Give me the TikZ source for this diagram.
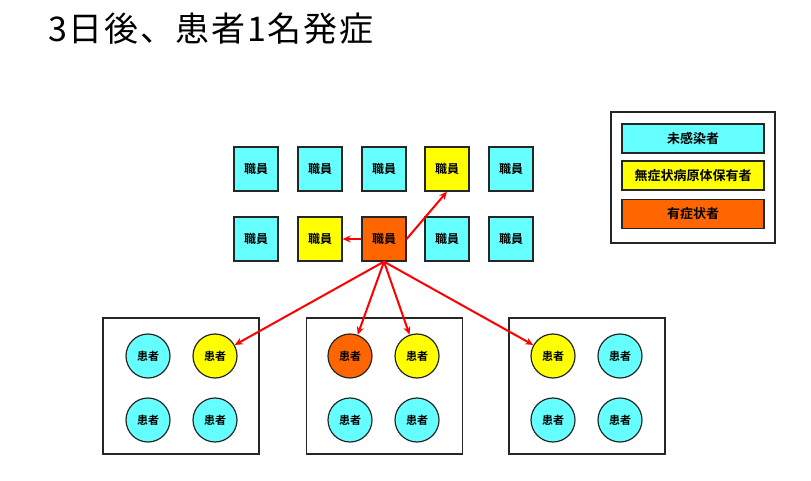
\documentclass[tikz,border=0pt]{standalone}
\usepackage{fontspec}
\setmainfont{Noto Sans CJK JP}[BoldFont={Noto Sans CJK JP Bold}]
\usetikzlibrary{arrows.meta}
\definecolor{cyanc}{HTML}{66FFFF}
\definecolor{yell}{HTML}{FFFF00}
\definecolor{oran}{HTML}{FF6600}
\definecolor{edgec}{HTML}{262626}
\begin{document}
\begin{tikzpicture}[x=1pt,y=-1pt,
 staff/.style={draw=edgec,line width=1.3pt,minimum size=44pt,inner sep=0pt,font=\fontsize{12}{12}\selectfont\bfseries},
 pat/.style={circle,draw=edgec,line width=1.2pt,minimum size=44pt,inner sep=0pt,font=\fontsize{11}{11}\selectfont\bfseries},
 room/.style={draw=edgec,line width=1.4pt,minimum width=156pt,minimum height=136pt,inner sep=0pt},
 leg/.style={draw=edgec,line width=1.3pt,minimum width=142pt,minimum height=29pt,inner sep=0pt,font=\fontsize{13}{13}\selectfont\bfseries},
 inf/.style={draw=red,line width=2pt,-{Stealth[length=8pt,width=7pt]}}]
\useasboundingbox (0,0) rectangle (811,481);
\node[anchor=base west,font=\fontsize{34}{34}\selectfont\addfontfeature{LetterSpace=5},inner sep=0pt] (title) at (48,42) {3日後、患者1名発症};
% staff
\node[staff,fill=cyanc] (s11) at (256,169) {職員};
\node[staff,fill=cyanc] (s12) at (320,169) {職員};
\node[staff,fill=cyanc] (s13) at (384,169) {職員};
\node[staff,fill=yell]  (s14) at (447,169) {職員};
\node[staff,fill=cyanc] (s15) at (511,169) {職員};
\node[staff,fill=cyanc] (s21) at (256,239) {職員};
\node[staff,fill=yell]  (s22) at (320,239) {職員};
\node[staff,fill=oran]  (s23) at (384,239) {職員};
\node[staff,fill=cyanc] (s24) at (447,239) {職員};
\node[staff,fill=cyanc] (s25) at (511,239) {職員};
% legend
\node[draw=edgec,line width=1.4pt,minimum width=164pt,minimum height=131pt,inner sep=0pt] (legbox) at (693,177.5) {};
\node[leg,fill=cyanc] (l1) at (693,138.5) {未感染者};
\node[leg,fill=yell]  (l2) at (693,175.5) {無症状病原体保有者};
\node[leg,fill=oran]  (l3) at (693,214) {有症状者};
% rooms
\node[room] (r1) at (181,386) {};
\node[room] (r2) at (384.5,386) {};
\node[room] (r3) at (587,386) {};
% patients
\node[pat,fill=cyanc] (p11) at (148,356) {患者};
\node[pat,fill=yell]  (p12) at (215,356) {患者};
\node[pat,fill=cyanc] (p13) at (148,420) {患者};
\node[pat,fill=cyanc] (p14) at (215,420) {患者};
\node[pat,fill=oran]  (p21) at (350,356) {患者};
\node[pat,fill=yell]  (p22) at (417,356) {患者};
\node[pat,fill=cyanc] (p23) at (350,420) {患者};
\node[pat,fill=cyanc] (p24) at (417,420) {患者};
\node[pat,fill=yell]  (p31) at (553,356) {患者};
\node[pat,fill=cyanc] (p32) at (620,356) {患者};
\node[pat,fill=cyanc] (p33) at (553,420) {患者};
\node[pat,fill=cyanc] (p34) at (620,420) {患者};
% infection arrows
\draw[inf] (s23.east) -- (s14.south);
\draw[inf] (s23.west) -- (s22.east);
\draw[inf] (s23.south) -- (p12);
\draw[inf] (s23.south) -- (p21);
\draw[inf] (s23.south) -- (p22);
\draw[inf] (s23.south) -- (p31);
\end{tikzpicture}
\end{document}
